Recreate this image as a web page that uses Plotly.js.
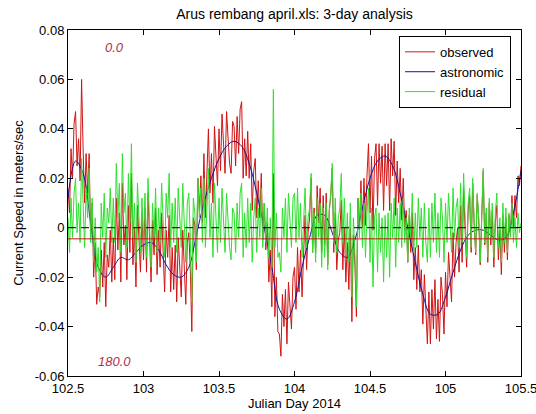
<!DOCTYPE html>
<html>
<head>
<meta charset="utf-8">
<script src="https://cdn.plot.ly/plotly-3.0.1.min.js"></script>
<style>html,body{margin:0;padding:0;background:#fff;}#chart{width:536px;height:414px;}</style>
</head>
<body>
<div id="chart"></div>
<script>
// ---- data ----
var tStart = 102.5;
var obsStep = 0.01;
var astroStep = 0.05;

var astronomic = [
 0.012, 0.027, 0.022, 0.002, -0.016, -0.020, -0.016, -0.012, -0.013, -0.010,
 -0.007, -0.006, -0.009, -0.015, -0.019, -0.020, -0.016, -0.003, 0.010, 0.020,
 0.028, 0.033, 0.035, 0.033, 0.026, 0.014, 0.000, -0.016, -0.033, -0.037,
 -0.030, -0.016, -0.004, 0.005, 0.005, -0.002, -0.010, -0.012, -0.005, 0.008,
 0.020, 0.027, 0.029, 0.025, 0.014, 0.000, -0.014, -0.027, -0.035, -0.035,
 -0.028, -0.018, -0.009, -0.003, -0.001, -0.001, -0.003, -0.005, -0.004, 0.006,
 0.023
];

var residual = [
 0.004,-0.010,0.012,-0.004,0.014,0.020,-0.002,0.010,-0.006,0.028,
 0.010,-0.008,0.016,0.004,0.024,-0.006,0.012,-0.014,0.004,-0.018,
 -0.008,-0.030,0.010,-0.004,0.014,-0.012,0.008,0.002,0.016,-0.006,
 0.012,-0.006,0.026,0.004,0.018,-0.010,0.030,0.006,0.014,-0.008,
 0.022,0.002,0.034,-0.004,0.010,-0.014,0.018,0.004,-0.010,0.012,
 -0.006,0.014,-0.012,0.020,0.002,-0.016,0.010,-0.004,0.016,-0.010,
 0.008,-0.006,0.018,0.002,-0.012,0.014,0.004,0.022,-0.008,0.010,
 -0.006,0.012,-0.010,0.016,0.004,-0.008,0.018,0.002,-0.014,0.010,
 0.014,-0.004,-0.030,0.012,0.006,-0.014,0.020,0.004,0.016,-0.006,
 0.020,-0.008,0.012,0.024,-0.004,0.010,-0.012,0.018,0.004,-0.010,
 0.012,-0.006,0.016,0.002,-0.010,0.014,0.004,-0.008,-0.013,0.008,
 0.006,-0.010,0.010,-0.004,0.014,0.018,-0.012,0.006,-0.008,0.012,
 -0.006,0.010,-0.014,0.004,0.012,-0.010,0.008,-0.004,0.016,-0.008,
 0.010,-0.006,0.008,-0.012,0.004,-0.016,0.056,-0.008,0.006,-0.012,
 -0.010,-0.018,0.008,-0.004,0.012,-0.010,0.014,0.004,-0.008,0.012,
 0.014,-0.006,0.016,-0.004,0.010,-0.012,0.006,0.016,-0.008,0.004,
 0.008,0.022,-0.010,0.006,-0.014,0.012,-0.004,0.010,-0.016,0.008,
 -0.012,0.010,-0.017,0.006,0.014,0.026,-0.006,0.012,-0.010,0.004,
 0.008,0.022,-0.006,0.012,-0.010,0.006,-0.014,0.010,-0.028,0.004,
 -0.010,-0.032,0.012,-0.004,0.014,-0.008,0.010,-0.012,0.006,0.016,
 -0.014,0.008,-0.024,0.004,0.008,-0.018,0.006,-0.010,0.004,-0.022,
 0.005,-0.012,0.006,-0.020,0.010,-0.004,0.012,-0.016,0.008,-0.006,
 0.010,-0.008,0.012,-0.006,0.004,-0.014,0.008,-0.004,0.014,-0.010,
 0.006,-0.008,0.012,-0.004,0.008,-0.012,0.010,-0.006,-0.014,0.008,
 -0.012,0.010,-0.006,0.014,-0.010,0.006,-0.012,0.012,0.004,-0.014,
 0.010,-0.006,0.014,0.002,-0.010,0.016,-0.004,0.008,0.012,-0.008,
 0.018,-0.006,0.022,0.004,-0.012,0.010,0.016,-0.008,0.020,0.002,
 -0.010,0.014,0.004,-0.014,0.010,0.024,-0.006,0.008,-0.012,0.012,
 -0.004,0.010,-0.012,0.006,0.014,-0.008,0.004,-0.014,0.010,-0.006,
 0.008,-0.010,0.006,-0.004,0.010,-0.006,0.004,-0.008,0.006,-0.002,
 0.002
];

var observed = [
 0.016,0.006,0.032,0.020,0.042,0.047,0.025,0.036,0.019,0.060,
 0.032,0.010,0.030,0.014,0.030,-0.004,0.010,-0.020,-0.006,-0.031,
 -0.024,-0.028,-0.009,-0.024,-0.006,-0.032,-0.011,-0.016,-0.001,-0.022,
 -0.004,-0.021,0.012,-0.009,0.006,-0.022,0.018,-0.007,0.001,-0.021,
 0.009,-0.010,0.022,-0.015,0.000,-0.024,0.009,-0.004,-0.018,0.005,
 -0.013,0.008,-0.018,0.014,-0.004,-0.022,0.003,-0.011,0.008,-0.019,
 -0.001,-0.016,0.006,-0.011,-0.026,-0.001,-0.012,0.005,-0.026,-0.008,
 -0.025,-0.007,-0.030,-0.004,-0.016,-0.028,-0.001,-0.016,-0.031,-0.006,
 -0.002,-0.017,-0.042,0.004,0.001,-0.017,0.020,0.007,0.021,0.002,
 0.030,0.004,0.026,0.040,0.014,0.030,0.010,0.041,0.029,0.017,
 0.040,0.023,0.046,0.033,0.022,0.047,0.038,0.026,0.022,0.043,
 0.041,0.025,0.045,0.030,0.048,0.051,0.020,0.036,0.021,0.039,
 0.020,0.034,0.007,0.023,0.028,0.004,0.019,0.004,0.022,-0.005,
 0.010,-0.009,0.002,-0.022,-0.009,-0.032,0.022,-0.036,-0.020,-0.042,
 -0.043,-0.052,-0.027,-0.040,-0.025,-0.047,-0.022,-0.031,-0.041,-0.020,
 -0.016,-0.033,-0.008,-0.026,-0.009,-0.028,-0.008,0.005,-0.017,-0.002,
 0.004,0.020,-0.010,0.008,-0.010,0.017,0.002,0.016,-0.010,0.013,
 -0.007,0.014,-0.015,0.007,0.013,0.024,-0.010,0.006,-0.017,-0.005,
 -0.002,0.011,-0.017,0.000,-0.022,-0.006,-0.025,0.000,-0.038,-0.003,
 -0.015,-0.036,0.012,-0.001,0.019,0.000,0.020,0.001,0.021,0.034,
 0.006,0.029,-0.001,0.028,0.034,0.009,0.034,0.018,0.033,0.007,
 0.034,0.017,0.034,0.007,0.036,0.021,0.035,0.005,0.027,0.010,
 0.024,0.003,0.020,-0.001,0.007,-0.014,0.005,-0.010,0.006,-0.021,
 -0.008,-0.025,-0.007,-0.026,-0.017,-0.039,-0.019,-0.037,-0.047,-0.026,
 -0.047,-0.025,-0.041,-0.021,-0.045,-0.029,-0.046,-0.020,-0.027,-0.043,
 -0.018,-0.032,-0.010,-0.020,-0.030,-0.002,-0.020,-0.006,0.000,-0.018,
 0.009,-0.014,0.016,-0.001,-0.016,0.007,0.013,-0.010,0.018,0.001,
 -0.011,0.013,0.003,-0.015,0.009,0.023,-0.007,0.006,-0.014,0.010,
 -0.007,0.007,-0.016,0.002,0.009,-0.013,-0.001,-0.019,0.005,-0.010,
 0.004,-0.013,0.005,-0.003,0.013,0.000,0.013,0.004,0.021,0.017,
 0.025
];

var zeroLevel = 0;
var meanLevel = -0.0045;
var xTicks = [102.5, 103, 103.5, 104, 104.5, 105, 105.5];
var xTickLabels = ['102.5', '103', '103.5', '104', '104.5', '105', '105.5'];
var yTicks = [0.08, 0.06, 0.04, 0.02, 0, -0.02, -0.04, -0.06];
var yTickLabels = ['0.08', '0.06', '0.04', '0.02', '0', '-0.02', '-0.04', '-0.06'];
var seriesNames = ['observed', 'astronomic', 'residual'];
var phaseLabels = ['0.0', '180.0'];

// ---- build ----
function times(n, step) {
  var out = [];
  for (var i = 0; i < n; i++) out.push(+(tStart + i * step).toFixed(4));
  return out;
}
var tObs = times(observed.length, obsStep);
var tAstro = times(astronomic.length, astroStep);

var FONT = 'Liberation Sans, Arial, Helvetica, sans-serif';
var TXT = {family: FONT, size: 13, color: '#000'};

var traces = [
  {x: tObs, y: observed, type: 'scatter', mode: 'lines', name: seriesNames[0],
   line: {color: '#d01414', width: 1}},
  {x: tAstro, y: astronomic, type: 'scatter', mode: 'lines', name: seriesNames[1],
   line: {color: '#14149a', width: 1, shape: 'spline', smoothing: 1}},
  {x: tObs, y: residual, type: 'scatter', mode: 'lines', name: seriesNames[2],
   line: {color: '#2ee02e', width: 1}}
];

var layout = {
  width: 536, height: 414,
  margin: {l: 68, r: 15, t: 30, b: 38, pad: 0},
  paper_bgcolor: '#fff', plot_bgcolor: '#fff',
  font: TXT,
  title: {text: 'Arus rembang april.xls: 3-day analysis', font: {family: FONT, size: 14, color: '#000'},
          xref: 'paper', x: 0.5, xanchor: 'center', yref: 'container', y: 0.966, yanchor: 'middle'},
  showlegend: true,
  legend: {x: 0.978, xanchor: 'right', y: 0.983, yanchor: 'top', bgcolor: '#fff',
           bordercolor: '#000', borderwidth: 1, font: {family: FONT, size: 13, color: '#000'},
           tracegroupgap: 0, entrywidth: 134, entrywidthmode: 'pixels'},
  xaxis: {range: [102.5, 105.5], tickvals: xTicks, ticktext: xTickLabels, ticks: 'inside', ticklen: 5,
          tickcolor: '#000', showline: true, linecolor: '#000', linewidth: 1, mirror: 'ticks',
          showgrid: false, zeroline: false, tickfont: TXT, ticklabeloverflow: 'allow',
          title: {text: 'Julian Day 2014', font: TXT, standoff: 3}},
  yaxis: {range: [-0.06, 0.08], tickvals: yTicks, ticktext: yTickLabels, ticks: 'inside', ticklen: 5,
          tickcolor: '#000', showline: true, linecolor: '#000', linewidth: 1, mirror: 'ticks',
          showgrid: false, zeroline: false, tickfont: TXT,
          title: {text: 'Current Speed in meters/sec', font: TXT, standoff: 8}},
  shapes: [
    {type: 'line', xref: 'paper', x0: 0, x1: 1, yref: 'y', y0: zeroLevel, y1: zeroLevel,
     line: {color: '#000', width: 1, dash: '8px,5px'}},
    {type: 'line', xref: 'paper', x0: 0, x1: 1, yref: 'y', y0: meanLevel, y1: meanLevel,
     line: {color: '#c81414', width: 1}}
  ],
  annotations: [
    {x: 102.81, y: 0.073, xref: 'x', yref: 'y', text: '<i>' + phaseLabels[0] + '</i>', showarrow: false,
     font: {family: FONT, size: 13, color: '#b0304a'}},
    {x: 102.81, y: -0.054, xref: 'x', yref: 'y', text: '<i>' + phaseLabels[1] + '</i>', showarrow: false,
     font: {family: FONT, size: 13, color: '#b0304a'}}
  ]
};

Plotly.newPlot('chart', traces, layout, {displayModeBar: false, staticPlot: true});
</script>
</body>
</html>
